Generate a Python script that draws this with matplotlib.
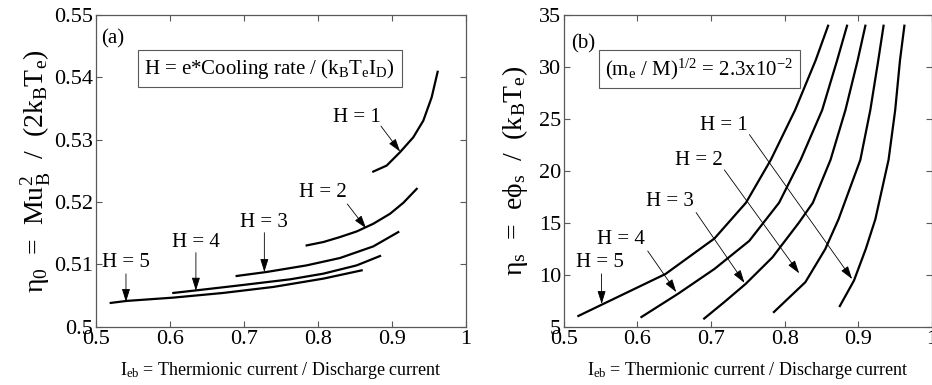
import matplotlib.pyplot as plt
import numpy as np

plt.rcParams['font.family'] = ['Liberation Serif', 'DejaVu Serif']
plt.rcParams['mathtext.fontset'] = 'custom'
plt.rcParams['mathtext.rm'] = 'Liberation Serif'
plt.rcParams['mathtext.it'] = 'Liberation Serif'
plt.rcParams['mathtext.bf'] = 'Liberation Serif:bold'

# (a) eta_0 vs I_eb, one curve per H
eta0_x = {
    1: [0.8747, 0.8928, 0.9108, 0.9288, 0.9423, 0.9536, 0.9617],
    2: [0.7847, 0.8072, 0.8297, 0.8523, 0.8747, 0.8973, 0.9153, 0.9334],
    3: [0.6901, 0.7306, 0.7847, 0.8297, 0.8747, 0.9085],
    4: [0.6045, 0.6361, 0.6946, 0.7622, 0.8072, 0.8523, 0.8838],
    5: [0.5199, 0.5414, 0.6045, 0.6720, 0.7396, 0.8070, 0.8590],
}
eta0_y = {
    1: [0.5249, 0.52586, 0.5280, 0.5304, 0.53306, 0.5368, 0.5409],
    2: [0.51306, 0.5136, 0.5144, 0.5153, 0.51653, 0.51813, 0.51989, 0.52213],
    3: [0.50816, 0.5088, 0.50986, 0.51104, 0.5129, 0.5152],
    4: [0.50544, 0.50586, 0.50666, 0.50762, 0.50853, 0.50986, 0.51136],
    5: [0.50384, 0.50416, 0.50469, 0.50544, 0.5064, 0.50773, 0.50906],
}

# (b) eta_s vs I_eb
etas_x = {
    1: [0.8748, 0.894, 0.910, 0.923, 0.9410, 0.9500, 0.9565, 0.9625],
    2: [0.7853, 0.828, 0.855, 0.873, 0.9027, 0.9162, 0.9270, 0.9342],
    3: [0.6906, 0.7180, 0.747, 0.7833, 0.8193, 0.8382, 0.8622, 0.8824, 0.8990, 0.9095],
    4: [0.6054, 0.655, 0.7045, 0.7518, 0.7923, 0.8216, 0.8508, 0.8711, 0.8846],
    5: [0.5197, 0.5513, 0.6381, 0.7045, 0.7473, 0.7811, 0.8140, 0.8419, 0.8589],
}
etas_y = {
    1: [7.0, 9.45, 12.48, 15.34, 21.07, 25.85, 30.63, 33.97],
    2: [6.43, 9.30, 12.48, 15.34, 21.07, 25.85, 30.63, 33.97],
    3: [5.8, 7.39, 9.14, 11.69, 15.03, 16.94, 21.07, 25.85, 30.63, 33.97],
    4: [5.95, 8.18, 10.57, 13.27, 16.94, 21.07, 25.85, 30.63, 33.97],
    5: [6.05, 7.13, 10.09, 13.5, 16.94, 21.07, 25.85, 30.63, 33.97],
}

# label position, arrow tail, arrow tip
labels_a = {
    1: ((0.852, 0.5336), (0.885, 0.5322), (0.911, 0.5281)),
    2: ((0.807, 0.5216), (0.8396, 0.5197), (0.865, 0.5158)),
    3: ((0.7275, 0.5168), (0.7275, 0.5151), (0.7275, 0.5088)),
    4: ((0.635, 0.5136), (0.635, 0.5119), (0.635, 0.5058)),
    5: ((0.5405, 0.5103), (0.5405, 0.5085), (0.5405, 0.5040)),
}
labels_b = {
    1: ((0.718, 24.4), (0.752, 23.5), (0.8915, 9.6)),
    2: ((0.684, 21.0), (0.718, 20.1), (0.8196, 10.15)),
    3: ((0.6437, 17.1), (0.6796, 16.0), (0.7453, 9.23)),
    4: ((0.578, 13.43), (0.6139, 12.3), (0.6527, 8.34)),
    5: ((0.549, 11.2), (0.551, 10.1), (0.5514, 7.2)),
}

fig = plt.figure(figsize=(9.32, 3.85), dpi=100)
axa = fig.add_axes([0.103, 0.151, 0.397, 0.810])
axb = fig.add_axes([0.605, 0.151, 0.395, 0.810])

def style(ax):
    ax.tick_params(direction='in', top=True, right=True, length=4,
                   width=0.8, color='0.35', labelsize=16, pad=2)
    for s in ax.spines.values():
        s.set_color('0.35')
        s.set_linewidth(0.9)

for h in range(1, 6):
    axa.plot(eta0_x[h], eta0_y[h], color='black', lw=1.6)
    axb.plot(etas_x[h], etas_y[h], color='black', lw=1.6)

arrow = dict(arrowstyle='-|>,head_length=0.8,head_width=0.25', color='black',
             lw=0.6, shrinkA=0, shrinkB=0)
for ax, labs in ((axa, labels_a), (axb, labels_b)):
    for h, (lp, tail, tip) in labs.items():
        ax.text(lp[0], lp[1], 'H = %d' % h, ha='center', va='center', fontsize=15)
        ax.annotate('', xy=tip, xytext=tail, arrowprops=arrow)

xlab = 'I$_{eb}$ = Thermionic current / Discharge current'

axa.set_xlim(0.5, 1)
axa.set_ylim(0.5, 0.55)
axa.set_xticks([0.5, 0.6, 0.7, 0.8, 0.9, 1])
axa.set_xticklabels(['0.5', '0.6', '0.7', '0.8', '0.9', '1'])
axa.set_yticks([0.5, 0.51, 0.52, 0.53, 0.54, 0.55])
axa.set_yticklabels(['0.5', '0.51', '0.52', '0.53', '0.54', '0.55'])
axa.set_xlabel(xlab, fontsize=13, labelpad=8)
axa.set_ylabel(r'$\eta_0$  =  Mu$_B^2$  /  (2k$_B$T$_e$)', fontsize=20, labelpad=1)
axa.text(0.523, 0.5462, '(a)', ha='center', va='center', fontsize=15)
axa.text(0.735, 0.5414, 'H = e*Cooling rate / (k$_B$T$_e$I$_D$)', ha='center',
         va='center', fontsize=15,
         bbox=dict(boxstyle='square,pad=0.3', fc='white', ec='0.35', lw=0.8))
style(axa)

axb.set_xlim(0.5, 1)
axb.set_ylim(5, 35)
axb.set_xticks([0.5, 0.6, 0.7, 0.8, 0.9, 1])
axb.set_xticklabels(['0.5', '0.6', '0.7', '0.8', '0.9', '1'])
axb.set_yticks([5, 10, 15, 20, 25, 30, 35])
axb.set_xlabel(xlab, fontsize=13, labelpad=8)
axb.set_ylabel(r'$\eta_s$  =  e$\phi_s$  /  (k$_B$T$_e$)', fontsize=20, labelpad=6)
axb.text(0.5266, 32.2, '(b)', ha='center', va='center', fontsize=15)
axb.text(0.684, 29.8, '(m$_e$ / M)$^{1/2}$ = 2.3x10$^{-2}$', ha='center',
         va='center', fontsize=15,
         bbox=dict(boxstyle='square,pad=0.3', fc='white', ec='0.35', lw=0.8))
style(axb)

fig.savefig('out.png', dpi=100)
